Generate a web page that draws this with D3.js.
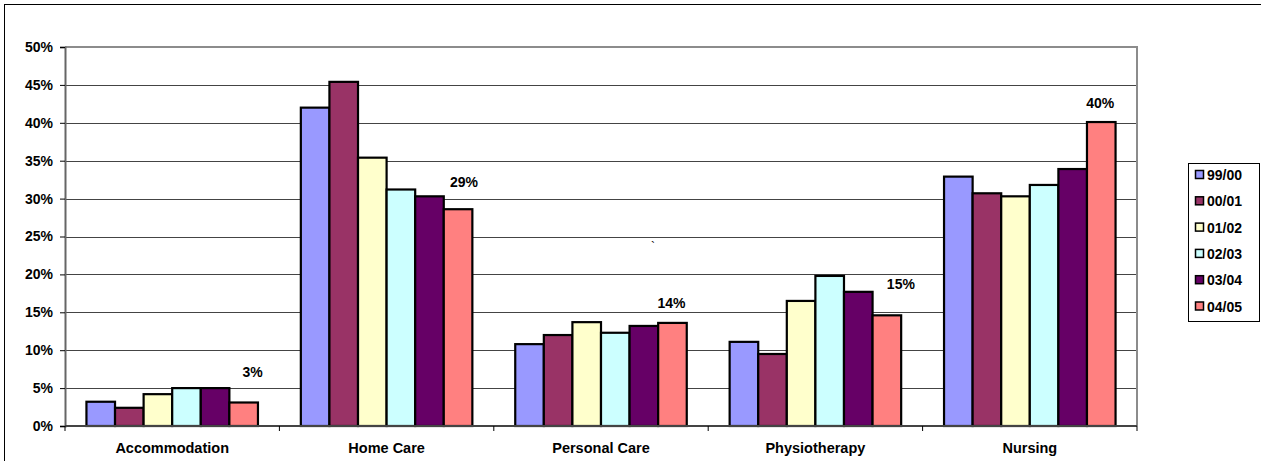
<!DOCTYPE html>
<html>
<head>
<meta charset="utf-8">
<script src="https://cdn.jsdelivr.net/npm/d3@7"></script>
<style>
  html, body { margin: 0; padding: 0; background: #fff; }
  svg { display: block; font-family: "Liberation Sans", Arial, sans-serif; }
</style>
</head>
<body>
<svg id="chart" width="1261" height="461"></svg>
<script>
// Service categories and yearly shares
const categories = ["Accommodation", "Home Care", "Personal Care", "Physiotherapy", "Nursing"];
const years = ["99/00", "00/01", "01/02", "02/03", "03/04", "04/05"];
const s9900 = [0.032, 0.420, 0.108, 0.111, 0.329];
const s0001 = [0.024, 0.454, 0.120, 0.095, 0.307];
const s0102 = [0.042, 0.354, 0.137, 0.165, 0.303];
const s0203 = [0.050, 0.312, 0.123, 0.198, 0.318];
const s0304 = [0.050, 0.303, 0.132, 0.177, 0.339];
const s0405 = [0.031, 0.286, 0.136, 0.146, 0.401];
const yTicks = [0, 0.05, 0.10, 0.15, 0.20, 0.25, 0.30, 0.35, 0.40, 0.45, 0.50];

const seriesValues = [s9900, s0001, s0102, s0203, s0304, s0405];
const colors = ["#9999FF", "#993366", "#FFFFCC", "#CCFFFF", "#660066", "#FF8080"];

const svg = d3.select("#chart");

// outer frame
svg.append("rect")
  .attr("x", 4.5).attr("y", 4.5)
  .attr("width", 1262).attr("height", 462)
  .attr("fill", "none").attr("stroke", "#000").attr("stroke-width", 1);

const plot = { left: 65, right: 1137, top: 47, bottom: 426 };

const x0 = d3.scaleBand().domain(categories).range([plot.left, plot.right]).paddingInner(0).paddingOuter(0);
const x1 = d3.scaleBand().domain(years).range([0, x0.bandwidth()]).paddingInner(0).paddingOuter(0.75);
const y = d3.scaleLinear().domain([0, 0.5]).range([plot.bottom, plot.top]);
const color = d3.scaleOrdinal().domain(years).range(colors);

// gridlines
svg.append("g")
  .selectAll("line")
  .data(yTicks.filter(t => t > 0 && t < 0.5))
  .join("line")
  .attr("x1", plot.left).attr("x2", plot.right)
  .attr("y1", d => Math.round(y(d)) + 0.5).attr("y2", d => Math.round(y(d)) + 0.5)
  .attr("stroke", "#444").attr("stroke-width", 1);

// plot area border (top and right)
svg.append("path")
  .attr("d", `M${plot.left},${plot.top}H${plot.right}V${plot.bottom}`)
  .attr("fill", "none").attr("stroke", "#8c8c8c").attr("stroke-width", 2);

// bars
const groups = svg.append("g")
  .selectAll("g")
  .data(categories)
  .join("g")
  .attr("transform", d => `translate(${x0(d)},0)`);

groups.selectAll("rect")
  .data((d, i) => years.map((yr, j) => ({ year: yr, value: seriesValues[j][i] })))
  .join("rect")
  .attr("x", d => x1(d.year))
  .attr("y", d => y(d.value))
  .attr("width", x1.bandwidth())
  .attr("height", d => y(0) - y(d.value))
  .attr("fill", d => color(d.year))
  .attr("stroke", "#000")
  .attr("stroke-width", 2.2);

// y axis
const yAxis = d3.axisLeft(y).tickValues(yTicks).tickFormat(d3.format(".0%")).tickSize(5).tickPadding(7);
const gy = svg.append("g").attr("transform", `translate(${plot.left},0)`).call(yAxis);
gy.select(".domain").attr("stroke", "#666").attr("stroke-width", 2);
gy.selectAll(".tick line").attr("stroke", "#000");
gy.selectAll("text").attr("font-size", 14).attr("font-weight", "bold").attr("fill", "#000");

// x axis baseline and category ticks
const gx = svg.append("g");
gx.append("line")
  .attr("x1", plot.left).attr("x2", plot.right)
  .attr("y1", plot.bottom).attr("y2", plot.bottom)
  .attr("stroke", "#444").attr("stroke-width", 2);
const boundaries = categories.map(c => x0(c)).concat([plot.right]);
gx.selectAll("line.tk")
  .data(boundaries)
  .join("line")
  .attr("class", "tk")
  .attr("x1", d => d).attr("x2", d => d)
  .attr("y1", plot.bottom).attr("y2", plot.bottom + 5)
  .attr("stroke", "#000");
gx.selectAll("text")
  .data(categories)
  .join("text")
  .attr("x", d => x0(d) + x0.bandwidth() / 2)
  .attr("y", 453)
  .attr("text-anchor", "middle")
  .attr("font-size", 14.5)
  .attr("font-weight", "bold")
  .text(d => d);

// value labels for the latest year, nudged off the bar tops
const labelNudge = [[9, -31], [6, -27], [-1, -20], [14, -31], [-1, -19]];
svg.append("g")
  .selectAll("text")
  .data(categories)
  .join("text")
  .attr("x", (d, i) => x0(d) + x1("04/05") + x1.bandwidth() / 2 + labelNudge[i][0])
  .attr("y", (d, i) => y(s0405[i]) + labelNudge[i][1])
  .attr("dominant-baseline", "central")
  .attr("text-anchor", "middle")
  .attr("font-size", 14)
  .attr("font-weight", "bold")
  .text((d, i) => d3.format(".0%")(s0405[i]));

// stray mark
svg.append("text")
  .attr("x", 651).attr("y", 251)
  .attr("font-size", 12).attr("fill", "#000")
  .text("`");

// legend
const legend = svg.append("g").attr("transform", "translate(1188,163)");
legend.append("rect")
  .attr("x", 0.5).attr("y", 0.5).attr("width", 71).attr("height", 158)
  .attr("fill", "#fff").attr("stroke", "#000");
const items = legend.selectAll("g.item")
  .data(years)
  .join("g")
  .attr("class", "item")
  .attr("transform", (d, i) => `translate(0,${12 + i * 26.3})`);
items.append("rect")
  .attr("x", 7.5).attr("y", -4.5).attr("width", 8).attr("height", 8)
  .attr("fill", d => color(d)).attr("stroke", "#000").attr("stroke-width", 1.5);
items.append("text")
  .attr("x", 19).attr("y", 0)
  .attr("dominant-baseline", "central")
  .attr("font-size", 14)
  .attr("font-weight", "bold")
  .text(d => d);
</script>
</body>
</html>
